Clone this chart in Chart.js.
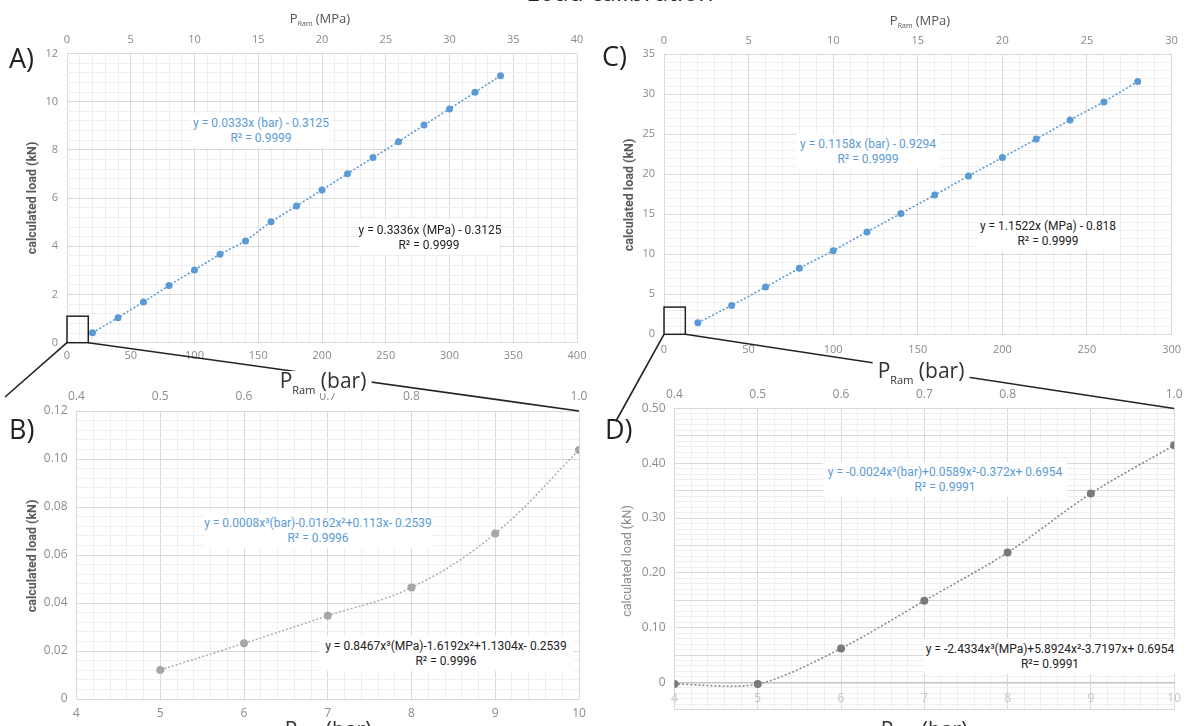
<!DOCTYPE html>
<html>
<head>
<meta charset="utf-8">
<script src="https://cdn.jsdelivr.net/npm/chart.js"></script>
<style>
body { margin: 0; background: #fff; }
#wrap { position: relative; width: 1190px; height: 726px; overflow: hidden; font-family: "Open Sans", sans-serif; }
canvas { position: absolute; left: 0; top: 0; }
#links { position: absolute; left: 0; top: 0; }
.t { position: absolute; white-space: nowrap; line-height: 1; }
.c { transform: translate(-50%, -50%); }
.letter { font-size: 27px; color: #222; transform: translateY(-50%); }
.mpa { font-size: 13px; color: #555; }
.mpa sub { font-size: 7px; vertical-align: -3px; }
.bar { font-size: 21px; line-height: 18px; color: #333; background: #fff; padding: 0 5px; }
.bar sub { font-size: 11px; vertical-align: baseline; position: relative; top: 6px; }
.ytitle { font-family: "Liberation Sans Narrow", "Roboto", sans-serif; font-size: 12.5px; font-weight: bold; color: #595959; transform: translate(-50%, -50%) rotate(-90deg); }
.eq { position: absolute; background: #fff; text-align: center; font-family: "Liberation Sans Narrow", "Roboto", sans-serif; font-size: 12px; line-height: 15px; padding: 3px 0 2px 0; white-space: nowrap; transform: translateX(-50%); }
.blue { color: #5b9bd5; }
.black { color: #222; }
</style>
</head>
<body>
<div id="wrap">
  <canvas id="cA" width="1190" height="726"></canvas>
  <canvas id="cB" width="1190" height="726"></canvas>
  <canvas id="cC" width="1190" height="726"></canvas>
  <canvas id="cD" width="1190" height="726"></canvas>
  <svg id="links" width="1190" height="726"></svg>

  <div class="t" style="left:620px; top:-21px; transform:translateX(-50%); font-size:25px; color:#222;">Load calibration</div>

  <div class="t letter" style="left:9px; top:57px;">A)</div>
  <div class="t letter" style="left:9px; top:428px;">B)</div>
  <div class="t letter" style="left:602px; top:55px;">C)</div>
  <div class="t letter" style="left:605px; top:428px;">D)</div>

  <div class="t c mpa" style="left:320px; top:19px;">P<sub>Ram</sub> (MPa)</div>
  <div class="t c mpa" style="left:920px; top:21px;">P<sub>Ram</sub> (MPa)</div>

  <div class="t c bar" style="left:323px; top:382px;">P<sub>Ram</sub> (bar)</div>
  <div class="t c bar" style="left:921px; top:372px;">P<sub>Ram</sub> (bar)</div>
  <div class="t c bar" style="left:328px; top:731px;">P<sub>Ram</sub> (bar)</div>
  <div class="t c bar" style="left:924px; top:731px;">P<sub>Ram</sub> (bar)</div>

  <div class="t ytitle" style="left:32px; top:198px;">calculated load (kN)</div>
  <div class="t ytitle" style="left:32px; top:556px;">calculated load (kN)</div>
  <div class="t ytitle" style="left:629px; top:195px;">calculated load (kN)</div>
  <div class="t ytitle" style="left:627px; top:561px; font-weight:normal; color:#8c8c8c;">calculated load (kN)</div>

  <div class="eq blue" style="left:261px; top:113px; width:142px;">y = 0.0333x (bar) - 0.3125<br>R² = 0.9999</div>
  <div class="eq black" style="left:429px; top:220px; width:141px;">y = 0.3336x (MPa) - 0.3125<br>R² = 0.9999</div>
  <div class="eq blue" style="left:318px; top:513px; width:228px;">y = 0.0008x³(bar)-0.0162x²+0.113x- 0.2539<br>R² = 0.9996</div>
  <div class="eq black" style="left:446px; top:636px; width:255px;">y = 0.8467x³(MPa)-1.6192x²+1.1304x- 0.2539<br>R² = 0.9996</div>
  <div class="eq blue" style="left:868px; top:134px; width:143px;">y = 0.1158x (bar) - 0.9294<br>R² = 0.9999</div>
  <div class="eq black" style="left:1048px; top:216px; width:141px;">y = 1.1522x (MPa) - 0.818<br>R² = 0.9999</div>
  <div class="eq blue" style="left:945px; top:462px; width:244px;">y = -0.0024x³(bar)+0.0589x²-0.372x+ 0.6954<br>R² = 0.9991</div>
  <div class="eq black" style="left:1050px; top:639px; width:252px;">y = -2.4334x³(MPa)+5.8924x²-3.7197x+ 0.6954<br>R²= 0.9991</div>
</div>

<script>
// A) full range, first ram
var barA = [20, 40, 60, 80, 100, 120, 140, 160, 180, 200, 220, 240, 260, 280, 300, 320, 340];
var loadA = [0.41, 1.04, 1.69, 2.37, 3.02, 3.67, 4.22, 5.02, 5.67, 6.34, 7.01, 7.68, 8.34, 9.03, 9.70, 10.39, 11.08];
// B) low range, first ram
var barB = [5, 6, 7, 8, 9, 10];
var loadB = [0.0121, 0.0232, 0.0347, 0.0465, 0.0690, 0.1037];
// C) full range, second ram
var barC = [20, 40, 60, 80, 100, 120, 140, 160, 180, 200, 220, 240, 260, 280];
var loadC = [1.45, 3.6, 5.9, 8.25, 10.45, 12.8, 15.1, 17.4, 19.8, 22.1, 24.4, 26.8, 29.05, 31.6];
// D) low range, second ram
var barD = [4, 5, 6, 7, 8, 9, 10];
var loadD = [-0.003, -0.003, 0.062, 0.149, 0.237, 0.345, 0.433];

// tick labels
var barTicksA = [0, 50, 100, 150, 200, 250, 300, 350, 400];
var loadTicksA = [0, 2, 4, 6, 8, 10, 12];
var mpaTicksA = [0, 5, 10, 15, 20, 25, 30, 35, 40];
var barTicksB = [4, 5, 6, 7, 8, 9, 10];
var loadTicksB = [0, 0.02, 0.04, 0.06, 0.08, 0.10, 0.12];
var mpaTicksB = [0.4, 0.5, 0.6, 0.7, 0.8, 1.0];
var barTicksC = [0, 50, 100, 150, 200, 250, 300];
var loadTicksC = [0, 5, 10, 15, 20, 25, 30, 35];
var mpaTicksC = [0, 5, 10, 15, 20, 25, 30];
var barTicksD = [4, 5, 6, 7, 8, 9, 10];
var loadTicksD = [0, 0.10, 0.20, 0.30, 0.40, 0.50];
var loadGridD = [-0.05, 0, 0.05, 0.10, 0.15, 0.20, 0.25, 0.30, 0.35, 0.40, 0.45, 0.50];
var mpaTicksD = [0.4, 0.5, 0.6, 0.7, 0.8, 1.0];

// zoomed region marked in A and C
var zoomA = {x: 16.7, y: 1.1};
var zoomC = {x: 12.6, y: 3.4};

var MAJOR = '#d9d9d9';
var MINOR = '#efefef';
var BLUE = '#5b9bd5';

function near(v, list, tol) {
    return list.some(function (m) { return Math.abs(m - v) < tol; });
}
function fmt2(v) { return Math.abs(v) < 1e-9 ? '0' : v.toFixed(2); }
function fmt1(v) { return v.toFixed(1); }
function fmt0(v) { return String(Math.round(v)); }

var zoomBox = {
    id: 'zoomBox',
    afterDatasetsDraw: function (chart, args, opts) {
        if (!opts || opts.x === undefined) return;
        var sx = chart.scales.x, sy = chart.scales.y, ctx = chart.ctx;
        var x0 = sx.getPixelForValue(0), x1 = sx.getPixelForValue(opts.x);
        var y0 = sy.getPixelForValue(0), y1 = sy.getPixelForValue(opts.y);
        ctx.save();
        ctx.strokeStyle = '#222';
        ctx.lineWidth = 1.5;
        ctx.strokeRect(x0, y1, x1 - x0, y0 - y1);
        ctx.restore();
    }
};

function makePanel(id, p) {
    var a = p.area;
    var tolX = p.xMinor / 100, tolY = p.yMinor / 100, tolT = p.topStep / 100;
    var yGrid = p.yGrid || p.yTicks;
    var font = {family: 'Open Sans', size: p.fontSize};
    return new Chart(document.getElementById(id), {
        type: 'scatter',
        data: {
            datasets: [{
                data: p.xs.map(function (x, i) { return {x: x, y: p.ys[i]}; }),
                showLine: true,
                borderColor: p.lineColor,
                borderWidth: 1.6,
                borderDash: [2, 2],
                tension: p.tension,
                pointRadius: p.radius,
                pointBackgroundColor: p.ptColor,
                pointBorderWidth: 0
            }]
        },
        options: {
            responsive: false,
            animation: false,
            events: [],
            layout: {
                padding: {
                    left: a.l - 40,
                    top: a.t - 25,
                    right: 1190 - a.r,
                    bottom: p.zeroAxis ? 726 - a.b : 726 - a.b - 25
                }
            },
            plugins: {
                legend: {display: false},
                tooltip: {enabled: false},
                zoomBox: p.box || {}
            },
            scales: {
                x: {
                    type: 'linear',
                    min: p.xMin, max: p.xMax,
                    position: p.zeroAxis ? {y: 0} : 'bottom',
                    afterFit: function (s) { s.height = 25; },
                    grid: {
                        drawTicks: false,
                        color: function (c) { return near(c.tick.value, p.xTicks, tolX) ? MAJOR : MINOR; }
                    },
                    border: p.zeroAxis ? {display: true, color: '#c4c4c4', width: 1.5} : {display: false},
                    ticks: {
                        stepSize: p.xMinor, autoSkip: false, maxRotation: 0,
                        padding: p.xPad, color: p.xColor, font: font,
                        callback: function (v) { return near(v, p.xTicks, tolX) ? fmt0(v) : ''; }
                    }
                },
                x2: {
                    type: 'linear',
                    position: 'top',
                    min: p.topMin, max: p.topMax,
                    afterFit: function (s) { s.height = 25; },
                    grid: {display: false, drawTicks: false},
                    border: {display: false},
                    ticks: {
                        stepSize: p.topStep, autoSkip: false, maxRotation: 0,
                        padding: 7, color: p.tickColor, font: font,
                        callback: function (v) { return near(v, p.topTicks, tolT) ? p.fmtTop(v) : ''; }
                    }
                },
                y: {
                    type: 'linear',
                    min: p.yMin, max: p.yMax,
                    afterFit: function (s) { s.width = 40; },
                    grid: {
                        drawTicks: false,
                        color: function (c) { return near(c.tick.value, yGrid, tolY) ? MAJOR : MINOR; }
                    },
                    border: {display: false},
                    ticks: {
                        stepSize: p.yMinor, autoSkip: false,
                        padding: 9, color: p.tickColor, font: font,
                        callback: function (v) { return near(v, p.yTicks, tolY) ? p.fmtY(v) : ''; }
                    }
                }
            }
        },
        plugins: [zoomBox]
    });
}

var chA = makePanel('cA', {
    area: {l: 67, t: 53.5, r: 577, b: 342.7},
    xs: barA, ys: loadA,
    xMin: 0, xMax: 400, xMinor: 10, xTicks: barTicksA, xPad: 7,
    yMin: 0, yMax: 12, yMinor: 0.4, yTicks: loadTicksA, fmtY: fmt0,
    topMin: 0, topMax: 40, topStep: 5, topTicks: mpaTicksA, fmtTop: fmt0,
    fontSize: 11, tickColor: '#8a8a8a', xColor: '#8a8a8a',
    ptColor: BLUE, lineColor: BLUE, radius: 3.5, tension: 0,
    box: zoomA
});

var chB = makePanel('cB', {
    area: {l: 76.5, t: 411, r: 579, b: 699},
    xs: barB, ys: loadB,
    xMin: 4, xMax: 10, xMinor: 0.2, xTicks: barTicksB, xPad: 7,
    yMin: 0, yMax: 0.12, yMinor: 0.004, yTicks: loadTicksB, fmtY: fmt2,
    topMin: 0.4, topMax: 1.0, topStep: 0.1, topTicks: mpaTicksB, fmtTop: fmt1,
    fontSize: 12, tickColor: '#8c8c8c', xColor: '#8c8c8c',
    ptColor: '#a6a6a6', lineColor: '#b0b0b0', radius: 4, tension: 0.4
});

var chC = makePanel('cC', {
    area: {l: 664, t: 54.3, r: 1177, b: 334.3},
    xs: barC, ys: loadC,
    xMin: 0, xMax: 300, xMinor: 10, xTicks: barTicksC, xPad: 9,
    yMin: 0, yMax: 35, yMinor: 1, yTicks: loadTicksC, fmtY: fmt0,
    topMin: 0, topMax: 30, topStep: 5, topTicks: mpaTicksC, fmtTop: fmt0,
    fontSize: 11, tickColor: '#8a8a8a', xColor: '#8a8a8a',
    ptColor: BLUE, lineColor: BLUE, radius: 3.5, tension: 0,
    box: zoomC
});

var chD = makePanel('cD', {
    area: {l: 674.5, t: 408.5, r: 1177, b: 713.7},
    xs: barD, ys: loadD,
    xMin: 4, xMax: 10, xMinor: 0.2, xTicks: barTicksD, xPad: 9, zeroAxis: true,
    yMin: -0.05, yMax: 0.5, yMinor: 0.01, yTicks: loadTicksD, yGrid: loadGridD, fmtY: fmt2,
    topMin: 0.4, topMax: 1.0, topStep: 0.1, topTicks: mpaTicksD, fmtTop: fmt1,
    fontSize: 12, tickColor: '#8c8c8c', xColor: '#c4c4c4',
    ptColor: '#7a7a7a', lineColor: '#8a8a8a', radius: 4, tension: 0.3
});

// connector lines from the zoom boxes to the enlarged panels
var svg = document.getElementById('links');
function link(x1, y1, x2, y2) {
    var l = document.createElementNS('http://www.w3.org/2000/svg', 'line');
    l.setAttribute('x1', x1); l.setAttribute('y1', y1);
    l.setAttribute('x2', x2); l.setAttribute('y2', y2);
    l.setAttribute('stroke', '#222');
    l.setAttribute('stroke-width', '1.6');
    svg.appendChild(l);
}
var ax = chA.scales.x, ay = chA.scales.y;
link(ax.getPixelForValue(0), ay.getPixelForValue(0), 5, 397);
link(ax.getPixelForValue(zoomA.x), ay.getPixelForValue(0), chB.chartArea.right, chB.chartArea.top);
var cx = chC.scales.x, cy = chC.scales.y;
link(cx.getPixelForValue(0), cy.getPixelForValue(0), 616, 421);
link(cx.getPixelForValue(zoomC.x), cy.getPixelForValue(0), chD.chartArea.right, chD.chartArea.top);
</script>
</body>
</html>
